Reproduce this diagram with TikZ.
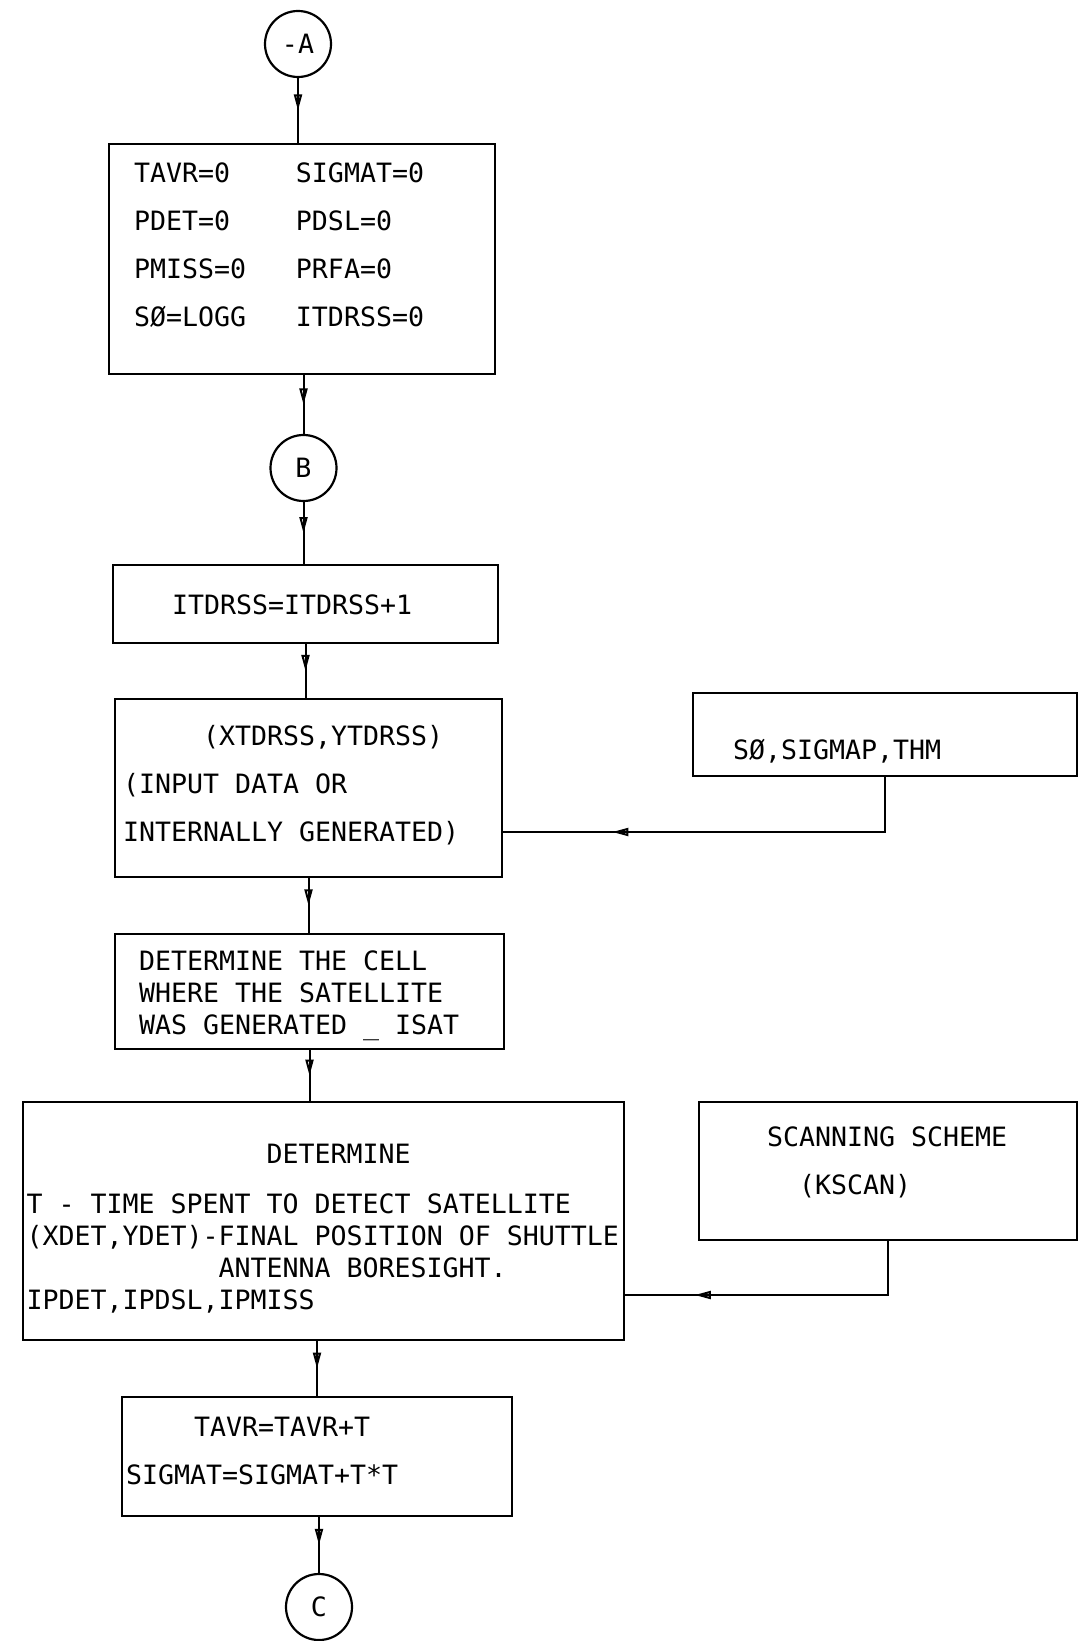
\documentclass[tikz,border=0pt]{standalone}
\usepackage{fontspec}
\setmonofont{DejaVu Sans Mono}
\usetikzlibrary{arrows.meta,decorations.markings}
\newcommand\chartfont{\ttfamily\fontsize{13.3}{16}\selectfont}

\begin{document}
\begin{tikzpicture}[x=.5pt,y=-.5pt,
every node/.style={font=\chartfont,
execute at begin node={\spaceskip=8pt\xspaceskip=8pt\relax}},
box/.style={draw,line width=1.1pt,inner ysep=0pt,align=left},
joint/.style={draw,circle,line width=1.1pt,minimum size=33pt,inner sep=0pt},
conn/.style={line width=1pt,decoration={markings,mark=at position #1 with
{\arrow{Triangle[open,length=8pt,width=4pt]}}},postaction={decorate}},
conn/.default=.5]
\useasboundingbox (0,0) rectangle (1078,1641);
\node[joint] (a) at (298,44) {-A};
\node[box,text width=168pt,inner xsep=12.5pt,text height=19.2pt,text depth=95.8pt]
(init) at (302,259) {\makebox[81pt][l]{TAVR=0}SIGMAT=0\\[8pt]
\makebox[81pt][l]{PDET=0}PDSL=0\\[8pt]
\makebox[81pt][l]{PMISS=0}PRFA=0\\[8pt]
\makebox[81pt][l]{SØ=LOGG}ITDRSS=0};
\node[joint] (b) at (303.5,468) {B};
\node[box,text width=133.5pt,inner xsep=29.5pt,text height=24.8pt,text depth=14pt] (count)
at (305.5,604) {ITDRSS=ITDRSS+1};
\node[box,text width=185.5pt,inner xsep=4pt,text height=23.2pt,text depth=65.7pt] (pos)
at (308.5,788) {\hspace*{40pt}(XTDRSS,YTDRSS)\\[8pt]
(INPUT DATA OR\\[8pt]
INTERNALLY GENERATED)};
\node[box,text width=152pt,inner xsep=20pt,text height=33.1pt,text depth=8.2pt] (prm)
at (885,734.5) {SØ,SIGMAP,THM};
\node[box,text width=170.5pt,inner xsep=12pt,text height=18.5pt,text depth=39.1pt] (cell)
at (309.5,991.5) {DETERMINE THE CELL\\
WHERE THE SATELLITE\\
WAS GENERATED \_ ISAT};
\node[box,text width=297pt,inner xsep=1.75pt,text height=30.5pt,text depth=88.3pt] (det)
at (323.5,1221) {\hspace*{120pt}DETERMINE\\[9pt]
T - TIME SPENT TO DETECT SATELLITE\\
(XDET,YDET)-FINAL POSITION OF SHUTTLE\\
\hspace*{96pt}ANTENNA BORESIGHT.\\
IPDET,IPDSL,IPMISS};
\node[box,text width=121pt,inner xsep=34pt,text height=22.1pt,text depth=47pt] (scan)
at (888,1171) {SCANNING SCHEME\\[8pt]
\hspace*{16pt}(KSCAN)};
\node[box,text width=191pt,inner xsep=2pt,text height=19.5pt,text depth=39.7pt] (sum)
at (317,1456.5) {\hspace*{34pt}TAVR=TAVR+T\\[8pt]
SIGMAT=SIGMAT+T*T};
\node[joint] (c) at (319,1607) {C};
% main line
\draw[conn] (a) -- (a |- init.north);
\draw[conn] (b |- init.south) -- (b);
\draw[conn] (b) -- (b |- count.north);
\draw[conn] (count.south) -- (count.south |- pos.north);
\draw[conn] (pos.south) -- (pos.south |- cell.north);
\draw[conn] (cell.south) -- (cell.south |- det.north);
\draw[conn] (sum.north |- det.south) -- (sum.north);
\draw[conn] (sum.south -| c) -- (c);
% side inputs
\draw[conn=.75] (prm.south) |- ([yshift=-22pt]pos.east);
\draw[conn=.78] (scan.south) |- ([yshift=-37pt]det.east);
\end{tikzpicture}
\end{document}
